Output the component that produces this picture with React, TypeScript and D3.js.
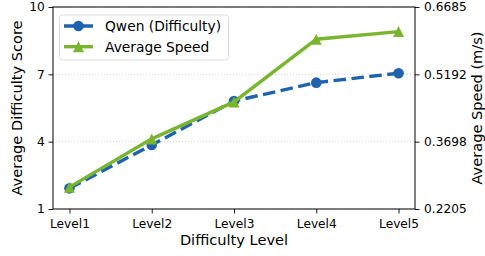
import React, { useEffect, useRef } from 'react';
import * as d3 from 'd3';

const levels = ['Level1', 'Level2', 'Level3', 'Level4', 'Level5'];
const difficulty = [1.92, 3.85, 5.81, 6.63, 7.05];
const speed = [0.269, 0.376, 0.458, 0.597, 0.614];
const leftTicks = [1, 4, 7, 10];
const rightTicks = [0.2205, 0.3698, 0.5192, 0.6685];

const App = () => {
  const svgRef = useRef<SVGSVGElement>(null);

  useEffect(() => {
    const W = 485;
    const H = 256;
    const margin = { top: 7, right: 70, bottom: 47, left: 53 };
    const width = W - margin.left - margin.right;
    const height = H - margin.top - margin.bottom;
    const font = 'DejaVu Sans, sans-serif';
    const blue = '#1f63ae';
    const green = '#7ab530';
    const lw = 3.4;
    const dash = '12.5,5.5';

    const root = d3.select(svgRef.current);
    root.selectAll('*').remove();
    const svg = root.append('g').attr('transform', `translate(${margin.left},${margin.top})`);

    // x: point positions with matplotlib-like 5% margins
    const step = width / (levels.length - 1 + 0.4);
    const x = d3.scalePoint<string>().domain(levels).range([step * 0.2, width - step * 0.2]);
    const yL = d3.scaleLinear().domain([1, 10]).range([height, 0]);
    const yR = d3.scaleLinear().domain([0.2205, 0.6685]).range([height, 0]);

    // grid
    svg.append('g')
      .selectAll('line')
      .data(leftTicks)
      .join('line')
      .attr('x1', 0)
      .attr('x2', width)
      .attr('y1', d => yL(d))
      .attr('y2', d => yL(d))
      .attr('stroke', '#cccccc')
      .attr('stroke-width', 0.8)
      .attr('stroke-dasharray', '1,2');

    // triangle marker like matplotlib '^'
    const triPath = (s: number) => `M0,${-s / 2}L${-s / 2},${s / 2}L${s / 2},${s / 2}Z`;

    // lines
    const lineL = d3.line<number>().x((_, i) => x(levels[i])!).y(d => yL(d));
    const lineR = d3.line<number>().x((_, i) => x(levels[i])!).y(d => yR(d));

    svg.append('path')
      .datum(difficulty)
      .attr('d', lineL)
      .attr('fill', 'none')
      .attr('stroke', blue)
      .attr('stroke-width', lw)
      .attr('stroke-dasharray', dash);
    svg.selectAll('circle.pt')
      .data(difficulty)
      .join('circle')
      .attr('class', 'pt')
      .attr('cx', (_, i) => x(levels[i])!)
      .attr('cy', d => yL(d))
      .attr('r', 5.3)
      .attr('fill', blue);

    svg.append('path')
      .datum(speed)
      .attr('d', lineR)
      .attr('fill', 'none')
      .attr('stroke', green)
      .attr('stroke-width', lw);
    svg.selectAll('path.tri')
      .data(speed)
      .join('path')
      .attr('class', 'tri')
      .attr('d', triPath(11))
      .attr('transform', (d, i) => `translate(${x(levels[i])},${yR(d)})`)
      .attr('fill', green);

    // axes
    const axL = svg.append('g')
      .call(d3.axisLeft(yL).tickValues(leftTicks).tickSize(4.5).tickPadding(3.7));
    const axR = svg.append('g')
      .attr('transform', `translate(${width},0)`)
      .call(d3.axisRight(yR).tickValues(rightTicks).tickFormat(d3.format('.4f')).tickSize(4.5).tickPadding(4.5));
    const axB = svg.append('g')
      .attr('transform', `translate(0,${height})`)
      .call(d3.axisBottom(x).tickSize(4.5).tickPadding(5.8));
    [axL, axR, axB].forEach(a => {
      a.select('.domain').remove();
      a.selectAll('text').attr('font-family', font).attr('font-size', 12.2).attr('fill', '#000');
      a.selectAll('line').attr('stroke', '#000').attr('stroke-width', 0.9);
    });

    svg.append('rect')
      .attr('width', width)
      .attr('height', height)
      .attr('fill', 'none')
      .attr('stroke', '#000')
      .attr('stroke-width', 1);

    // axis labels
    svg.append('text')
      .attr('x', width / 2)
      .attr('y', height + 35.5)
      .attr('text-anchor', 'middle')
      .attr('font-family', font)
      .attr('font-size', 14.6)
      .text('Difficulty Level');
    svg.append('text')
      .attr('transform', `translate(-31,${height / 2}) rotate(-90)`)
      .attr('text-anchor', 'middle')
      .attr('font-family', font)
      .attr('font-size', 14.6)
      .text('Average Difficulty Score');
    svg.append('text')
      .attr('transform', `translate(${width + 67},${height / 2}) rotate(-90)`)
      .attr('text-anchor', 'middle')
      .attr('font-family', font)
      .attr('font-size', 14.6)
      .text('Average Speed (m/s)');

    // legend
    const lg = svg.append('g').attr('transform', 'translate(6.5,8)');
    lg.append('rect')
      .attr('width', 169)
      .attr('height', 45)
      .attr('rx', 3)
      .attr('fill', '#fff')
      .attr('fill-opacity', 0.8)
      .attr('stroke', '#d9d9d9')
      .attr('stroke-width', 0.9);
    const items = [
      { label: 'Qwen (Difficulty)', color: blue, dash: dash, marker: 'circle' },
      { label: 'Average Speed', color: green, dash: null, marker: 'tri' }
    ];
    items.forEach((it, i) => {
      const gy = 11 + i * 20.7;
      const g = lg.append('g').attr('transform', `translate(0,${gy})`);
      g.append('line')
        .attr('x1', 4.5)
        .attr('x2', 33.5)
        .attr('stroke', it.color)
        .attr('stroke-width', lw)
        .attr('stroke-dasharray', it.dash);
      if (it.marker === 'circle') {
        g.append('circle').attr('cx', 19).attr('r', 5.3).attr('fill', it.color);
      } else {
        g.append('path').attr('d', triPath(11)).attr('transform', 'translate(19,0)').attr('fill', it.color);
      }
      g.append('text')
        .attr('x', 45.5)
        .attr('dy', '0.36em')
        .attr('font-family', font)
        .attr('font-size', 13.8)
        .text(it.label);
    });
  }, []);

  return (
    <div style={{ position: 'absolute', left: 0, top: 0 }}>
      <svg ref={svgRef} width={485} height={256} style={{ display: 'block', background: '#fff' }} />
    </div>
  );
};

export default App;
